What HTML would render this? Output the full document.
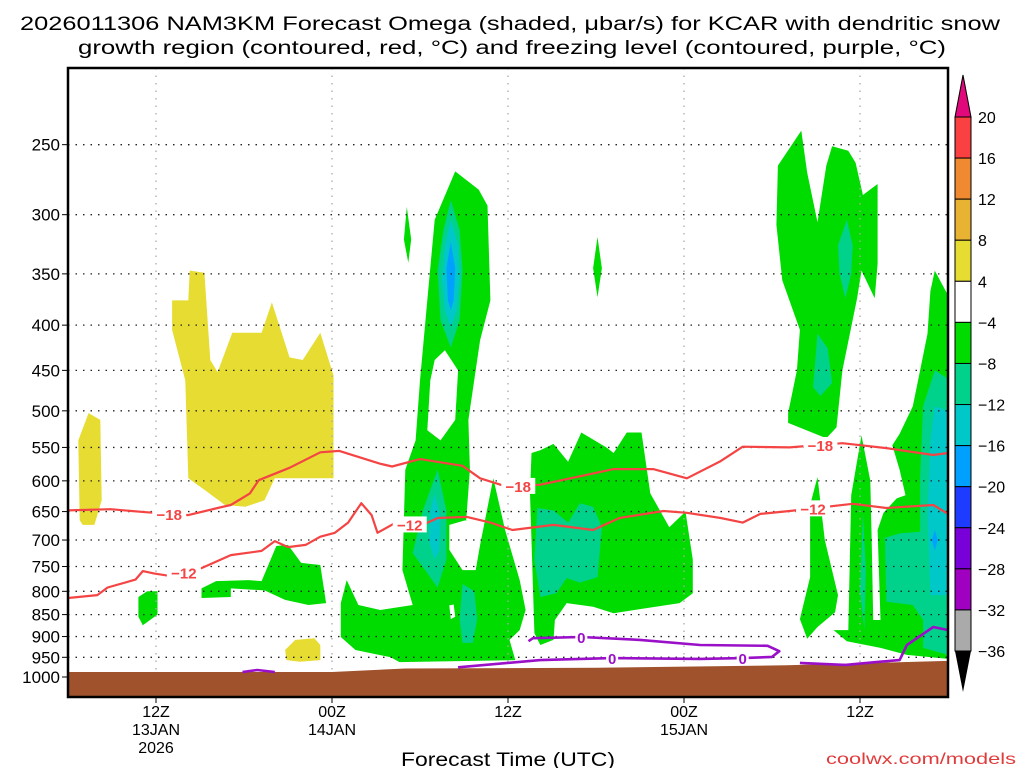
<!DOCTYPE html>
<html><head><meta charset="utf-8"><style>
html,body{margin:0;padding:0;background:#fff;}
svg{display:block;font-family:"Liberation Sans",sans-serif;}
</style></head><body>
<svg id="chart" width="1024" height="768" viewBox="0 0 1024 768" xmlns="http://www.w3.org/2000/svg">
<text x="20" y="30" font-size="19" textLength="980" lengthAdjust="spacingAndGlyphs">2026011306 NAM3KM Forecast Omega (shaded, μbar/s) for KCAR with dendritic snow</text>
<text x="78" y="54" font-size="19" textLength="868" lengthAdjust="spacingAndGlyphs">growth region (contoured, red, °C) and freezing level (contoured, purple, °C)</text>
<g id="plot"></g>
<g id="axes"></g>
<g id="cbar"></g>
<text x="508" y="766" font-size="19" text-anchor="middle" textLength="214" lengthAdjust="spacingAndGlyphs">Forecast Time (UTC)</text>
<text x="826" y="764" font-size="16" fill="#e03c3c" textLength="190" lengthAdjust="spacingAndGlyphs">coolwx.com/models</text>
</svg>
<script>
// ---- data (forecast hour from 06Z 13 JAN, pressure hPa) ----
const pressureTicks=[250,300,350,400,450,500,550,600,650,700,750,800,850,900,950,1000];
const timeTickHours=[6,18,30,42,54];
const timeTickLine1=["12Z","00Z","12Z","00Z","12Z"];
const timeTickLine2=["13JAN","14JAN","","15JAN",""];
const timeTickLine3=["2026","","","",""];
const cbarLevels=[20,16,12,8,4,-4,-8,-12,-16,-20,-24,-28,-32,-36];
const cbarColors=["#fa4040","#f08a30","#e8b232","#e6dc32","#ffffff","#00dc00","#00d28c","#00c8c8","#00a0ff","#1e3cff","#7800d8","#a000c0","#aaaaaa"];
const groundHours=[0,18,23,36,49,60];
const groundP=[987,987,978,976,970,959];
// shaded omega regions: [hour, hPa] polygons
const yellowRegions=[
 [[0.8,665],[0.7,540],[1.4,503],[2.2,512],[2.3,631],[1.8,673],[1.0,673]],
 [[7.1,375],[8.2,375],[8.3,347],[9.3,349],[9.7,438],[10.2,452],[11.2,408],[13.2,408],[13.9,377],[15.1,435],[16,438],[17.2,408],[18.1,456],[18.1,596],[14.1,596],[13.4,631],[12.1,642],[10.7,639],[9.3,614],[8.2,596],[8.0,462],[7.1,405]],
 [[14.8,932],[15.5,908],[16.8,904],[17.2,920],[17.2,957],[15.8,961],[14.9,957]]
];
const greenRegions=[
 [[4.8,812],[5.4,800],[6.1,800],[6.1,850],[5.1,874],[4.8,855]],
 [[9.1,794],[10.1,779],[12.3,777],[13.2,779],[14.2,711],[15,709],[15.9,743],[17.2,747],[17.6,825],[16.4,829],[14.8,818],[13.4,798],[11.1,794],[11.1,812],[9.1,814]],
 [[26.4,268],[28,281],[28.6,293],[28.8,375],[28.1,416],[27.3,512],[27.4,583],[27.1,682],[28.1,709],[29,596],[29.8,682],[30.8,777],[31.2,840],[30.8,885],[30.1,908],[30.5,957],[22.6,962],[22,950],[19.6,932],[18.6,901],[18.6,825],[19,777],[19.8,829],[21.3,840],[23.5,829],[22.8,757],[23,583],[23.7,540],[24,462],[24.5,375],[25,304]],
 [[23.1,294],[23.4,320],[23.2,340],[22.9,320]],
 [[36.1,318],[36.4,345],[36.1,372],[35.8,345]],
 [[31.6,558],[32.2,554],[33.1,545],[34.1,571],[35,529],[36.7,550],[37.2,558],[38.1,529],[39.1,529],[39.7,620],[41,677],[42.1,650],[42.6,737],[42.6,804],[41.7,825],[37.2,847],[35.8,833],[34,825],[33.2,862],[33.1,908],[32.2,920],[31.8,892],[31.5,620]],
 [[50,241],[50.4,269],[51.1,306],[51.7,264],[52.1,251],[53.2,254],[53.7,262],[54.2,285],[55.2,277],[55.2,341],[55,373],[54.1,347],[53.8,373],[52.8,450],[52.4,522],[51.7,537],[49.1,516],[49.1,503],[49.7,450],[49.9,405],[48.7,356],[48.3,308],[48.4,264]],
 [[51.1,594],[51.6,700],[52.5,808],[52.3,845],[51.1,878],[50.4,905],[49.9,860],[50.6,771],[50.6,639]],
 [[54.1,533],[54.7,600],[54.8,700],[54.9,862],[55.4,862],[55.2,682],[55.6,652],[56.5,628],[57.1,623],[56.7,583],[56.2,547],[56.7,531],[57.6,494],[58.1,450],[58.6,409],[58.8,366],[59.1,347],[60,370],[60,954],[57.2,944],[55.4,927],[53.1,911],[52.2,885],[53.2,885],[53.4,623]]
];
const whiteHoles=[
 [[25,438],[25.7,427],[26.6,450],[26.4,512],[25.4,540],[24.5,526],[24.7,462]],
 [[26,673],[27.1,665],[28.1,709],[27.8,757],[26.9,757],[26,718]],
 [[26,830],[26.3,828],[26.4,855],[26.1,860]]
];
const tealRegions=[
 [[26.1,289],[26.7,312],[26.9,347],[26.7,395],[26.1,424],[25.4,395],[25.2,347],[25.6,312]],
 [[25.2,583],[25.8,648],[25.8,737],[25.2,792],[23.5,724],[24.2,648]],
 [[26.9,785],[27.7,800],[27.9,860],[27.6,915],[26.9,915],[26.7,860]],
 [[32,644],[33.1,648],[34.1,669],[34.9,636],[35.8,642],[36.4,677],[36.1,771],[34.9,782],[34,773],[33.3,804],[32.2,812],[31.8,737]],
 [[53.1,304],[53.5,325],[53.4,350],[53,373],[52.6,350],[52.5,325]],
 [[51.1,409],[51.8,425],[52.1,465],[51.3,481],[50.8,470]],
 [[59.1,450],[60,460],[60,944],[58.3,927],[58.3,862],[57.6,829],[55.8,822],[55.7,696],[56.7,688],[58.1,685],[58.1,594],[58.3,494]],
 [[54.2,652],[54.4,760],[54.3,885],[54,800]]
];
const cyanRegions=[
 [[26.1,304],[26.6,325],[26.7,355],[26.5,385],[26.1,402],[25.7,385],[25.5,355],[25.7,325]],
 [[25,620],[25.4,660],[25.3,720],[25,737],[24.6,700],[24.7,650]],
 [[59.1,494],[60,500],[60,808],[58.8,808],[58.6,652],[58.8,541]]
];
const blueRegions=[
 [[26.1,322],[26.4,345],[26.3,375],[26.1,385],[25.9,375],[25.8,345]],
 [[59.1,682],[59.3,700],[59.1,720],[58.9,700]]
];
// dendritic growth isotherms (red)
const m18Hours=[0,2.9,5.3,8.2,10.2,11.1,12.4,13,15.1,17.2,18.5,21.3,22.1,24,26.9,28.1,29.9,32.2,34.9,37.2,39.9,42.2,44.5,46,49.2,52.8,54.1,55.8,59,60];
const m18P=[648,646,651,656,644,639,620,599,580,557,555,574,578,567,577,596,609,606,593,582,582,596,570,549,550,544,547,551,561,558];
const m18LabelHours=[6.9,30.7,51.3];
const m12Hours=[0,2,2.7,4.6,5.1,5.9,7,9.1,11.1,13.2,14.1,15,16.2,17.2,18.2,19.1,20,20.7,21.1,22.2,24.2,25.2,27.2,28.8,30.3,33.1,35.8,37.6,40.6,42.2,44.5,46,47.2,49.2,53.5,55.8,59,60];
const m12P=[814,808,792,776,759,764,769,753,728,720,702,713,709,694,687,669,636,656,687,671,673,661,659,669,682,673,682,661,649,652,661,669,654,649,637,644,639,654];
const m12LabelHours=[7.9,23.3,50.8];
// freezing level (purple, 0 C)
const frzA=[[11.9,987],[12.9,982],[14.1,987]];
const frzB=[[26.6,975],[32.2,957],[37.1,952],[43.1,954],[46,952],[48,949],[48.5,935],[47.7,922],[43.1,920],[39,908],[35,901],[31.7,904],[31.4,911]];
const frzC=[[49.9,964],[53,969],[55.4,961],[56.7,957],[57.2,920],[59,878],[60,885]];
const frzLabels=[[37.1,952],[46,952],[35,901]];

// ---- axis functions ----
const X0=68,X1=948,Y0=68,Y1=697,H0=0,H1=60,PREF=1000,YREF=677,PXLN=384;
const xs=h=>X0+(h-H0)/(H1-H0)*(X1-X0);
const ys=p=>YREF-Math.log(PREF/p)*PXLN;
const NS="http://www.w3.org/2000/svg";
function mk(tag,attrs,parent){const e=document.createElementNS(NS,tag);for(const k in attrs)e.setAttribute(k,attrs[k]);parent.appendChild(e);return e;}
const plot=document.getElementById('plot'),axes=document.getElementById('axes'),cbar=document.getElementById('cbar');
const clip=mk('clipPath',{id:'pc'},plot);mk('rect',{x:X0,y:Y0,width:X1-X0,height:Y1-Y0},clip);
const g=mk('g',{'clip-path':'url(#pc)'},plot);
const ptsOf=arr=>arr.map(d=>xs(d[0]).toFixed(1)+','+ys(d[1]).toFixed(1)).join(' ');
function regions(list,color,name){list.forEach(r=>{const e=mk('polygon',{points:ptsOf(r),fill:color},g);

});}
regions(yellowRegions,'#e6dc32','omega-positive-region');
regions(greenRegions,'#00dc00','omega-region-minus4');
regions(whiteHoles,'#ffffff','omega-gap-region');
regions(tealRegions,'#00d28c','omega-region-minus8');
regions(cyanRegions,'#00c8c8','omega-region-minus12');
regions(blueRegions,'#00a0ff','omega-region-minus16');
// grid
pressureTicks.forEach(p=>{const l=mk('line',{x1:X0,x2:X1,y1:ys(p),y2:ys(p),stroke:'#222','stroke-width':1.3,'stroke-dasharray':'1.5,6'},g);

});
timeTickHours.forEach(h=>{const l=mk('line',{x1:xs(h),x2:xs(h),y1:Y0,y2:Y1,stroke:'#aaa','stroke-width':1.3,'stroke-dasharray':'1.5,6'},g);

});
// ground
const gp=groundHours.map((h,i)=>[h,groundP[i]]);
const ground=mk('polygon',{points:ptsOf(gp)+' '+X1+','+Y1+' '+X0+','+Y1,fill:'#a0522d'},g);


// lines
function line(h,p,color,w,name){const d=h.map((v,i)=>[v,p[i]]);const e=mk('polyline',{points:ptsOf(d),fill:'none',stroke:color,'stroke-width':w,'stroke-linejoin':'round'},g);

return e;}
function interp(hs,ps,h){for(let i=0;i<hs.length-1;i++){if(h>=hs[i]&&h<=hs[i+1]){const t=(h-hs[i])/(hs[i+1]-hs[i]);return ps[i]+t*(ps[i+1]-ps[i]);}}return ps[ps.length-1];}
function label(x,y,txt,color,name){const bg=mk('rect',{x:x-17,y:y-8,width:34,height:16,fill:'#fff'},g);


const t=mk('text',{x:x,y:y+6,'text-anchor':'middle','font-size':15,'font-weight':'bold',fill:color},g);t.textContent=txt;

}
line(m18Hours,m18P,'#f44444',2.2,'isotherm-minus18');
line(m12Hours,m12P,'#f44444',2.2,'isotherm-minus12');
m18LabelHours.forEach(h=>label(xs(h),ys(interp(m18Hours,m18P,h)),'−18','#f44444','isotherm-label-minus18'));
m12LabelHours.forEach(h=>label(xs(h),ys(interp(m12Hours,m12P,h)),'−12','#f44444','isotherm-label-minus12'));
[frzA,frzB,frzC].forEach(a=>line(a.map(d=>d[0]),a.map(d=>d[1]),'#9a10c8',2.6,'freezing-level-contour'));
frzLabels.forEach(d=>{const x=xs(d[0]),y=ys(d[1]);const bg=mk('rect',{x:x-6,y:y-7,width:12,height:14,fill:'#fff'},g);


const t=mk('text',{x:x,y:y+6,'text-anchor':'middle','font-size':15,'font-weight':'bold',fill:'#9a10c8'},g);t.textContent='0';

});
// frame
const fr=mk('rect',{x:X0,y:Y0,width:X1-X0,height:Y1-Y0,fill:'none',stroke:'#000','stroke-width':2.5},axes);


pressureTicks.forEach(p=>{const y=ys(p);mk('line',{x1:X0-6,x2:X0,y1:y,y2:y,stroke:'#000','stroke-width':1},axes);
const t=mk('text',{x:X0-8,y:y+6,'text-anchor':'end','font-size':17,fill:'#000'},axes);t.textContent=p;

});
timeTickHours.forEach((h,i)=>{const x=xs(h);mk('line',{x1:x,x2:x,y1:Y1,y2:Y1+6,stroke:'#000','stroke-width':1},axes);
[timeTickLine1[i],timeTickLine2[i],timeTickLine3[i]].forEach((s,j)=>{if(!s)return;const t=mk('text',{x:x,y:717+j*18,'text-anchor':'middle','font-size':16,fill:'#000'},axes);t.textContent=s;

});});
// colorbar
const CX=955,CW=16,CT=117,CB=651,step=(CB-CT)/cbarColors.length;
cbarColors.forEach((c,i)=>{const r=mk('rect',{x:CX,y:CT+i*step,width:CW,height:step,fill:c,stroke:'#000','stroke-width':1},cbar);

});
const tu=mk('polygon',{points:`${CX},${CT} ${CX+CW},${CT} ${CX+CW/2},75`,fill:'#e0087a',stroke:'#000','stroke-width':1},cbar);


const td=mk('polygon',{points:`${CX},${CB} ${CX+CW},${CB} ${CX+CW/2},692`,fill:'#000'},cbar);


cbarLevels.forEach((v,i)=>{const t=mk('text',{x:978,y:CT+i*step+6,'font-size':16,fill:'#000'},cbar);t.textContent=v<0?'−'+(-v):v;

});
</script>
</body></html>
